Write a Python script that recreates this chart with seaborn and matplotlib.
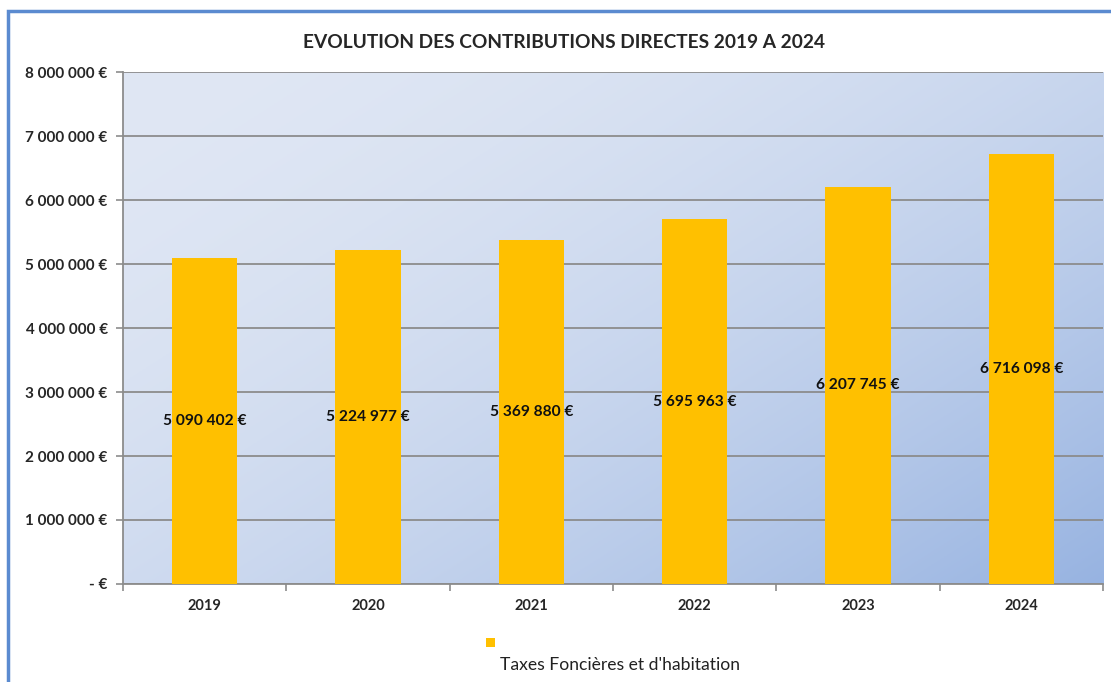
# Evolution des contributions directes 2019 - 2024 (histogramme style Excel)

import matplotlib.pyplot as plt
import numpy as np
import seaborn as sns
from matplotlib.patches import Rectangle
from matplotlib.ticker import FuncFormatter, MultipleLocator, FixedLocator

annees = ["2019", "2020", "2021", "2022", "2023", "2024"]
montants = [5090402, 5224977, 5369880, 5695963, 6207745, 6716098]
serie = "Taxes Foncières et d'habitation"

sns.set_style("white")
plt.rcParams["font.family"] = ["Lato", "DejaVu Sans"]

fig = plt.figure(figsize=(11.11, 6.82), dpi=100)
ax = fig.add_axes([0.1107, 0.1437, 0.8821, 0.7507])


def euro(v, pos=None):
    if v == 0:
        return "- €"
    return f"{int(round(v)):,}".replace(",", " ") + " €"


# fond en dégradé (clair en haut à gauche, plus bleu en bas à droite)
# ligne 0 de l'image = haut du graphique (origin="upper")
xx, yy = np.meshgrid(np.linspace(0, 1, 300), np.linspace(0, 1, 200))
t = np.clip((xx * 0.55 + yy * 0.45), 0, 1) ** 1.8
clair = np.array([0xe0, 0xe7, 0xf4]) / 255
fonce = np.array([0x97, 0xb3, 0xe1]) / 255
grad = clair[None, None, :] * (1 - t[..., None]) + fonce[None, None, :] * t[..., None]
ax.imshow(grad, extent=[0, 1, 0, 1], transform=ax.transAxes, aspect="auto",
          origin="upper", zorder=0)

sns.barplot(x=annees, y=montants, color="#ffc000", width=0.4, saturation=1,
            edgecolor="none", linewidth=0, ax=ax, zorder=3)

ax.set_ylim(0, 8000000)
ax.set_xlim(-0.5, len(annees) - 0.5)
ax.yaxis.set_major_locator(MultipleLocator(1000000))
ax.yaxis.set_major_formatter(FuncFormatter(euro))
ax.grid(axis="y", color="#8c8c8c", linewidth=1.3, zorder=1)
ax.set_axisbelow(True)

for side in ["top", "right"]:
    ax.spines[side].set_visible(False)
for side in ["left", "bottom"]:
    ax.spines[side].set_color("#8c8c8c")
    ax.spines[side].set_linewidth(1.3)

ax.tick_params(axis="y", left=True, length=5, width=1.2, color="#8c8c8c",
               labelsize=11, pad=6)
ax.tick_params(axis="x", which="major", bottom=False, labelsize=10.5, pad=7)
ax.xaxis.set_minor_locator(FixedLocator(np.arange(-0.5, len(annees), 1)))
ax.tick_params(axis="x", which="minor", bottom=True, length=5, width=1.2,
               color="#8c8c8c")
for lab in ax.get_yticklabels() + ax.get_xticklabels():
    lab.set_fontweight("bold")
ax.set_xlabel("")
ax.set_ylabel("")

# montants au milieu des barres
ax.bar_label(ax.containers[0], labels=[euro(v) for v in montants],
             label_type="center", fontsize=11.2, fontweight="bold", color="#111111")

fig.text(0.508, 0.938, "EVOLUTION DES CONTRIBUTIONS DIRECTES 2019 A 2024",
         ha="center", va="center", fontsize=13.8, fontweight="bold")

# légende façon Excel : carré au-dessus du texte
fig.patches.append(Rectangle((0.437, 0.051), 0.0085, 0.0135, transform=fig.transFigure,
                             facecolor="#ffc000", edgecolor="none", figure=fig))
fig.text(0.450, 0.025, serie, ha="left", va="center", fontsize=12.6, color="#222222")

# cadre bleu du graphique
fig.patches.append(Rectangle((0.0072, -0.1), 1.2, 0.984 + 0.1, transform=fig.transFigure,
                             facecolor="none", edgecolor="#5b8bd0", linewidth=2.5,
                             figure=fig, zorder=10))

fig.savefig("out.png", dpi=100)
